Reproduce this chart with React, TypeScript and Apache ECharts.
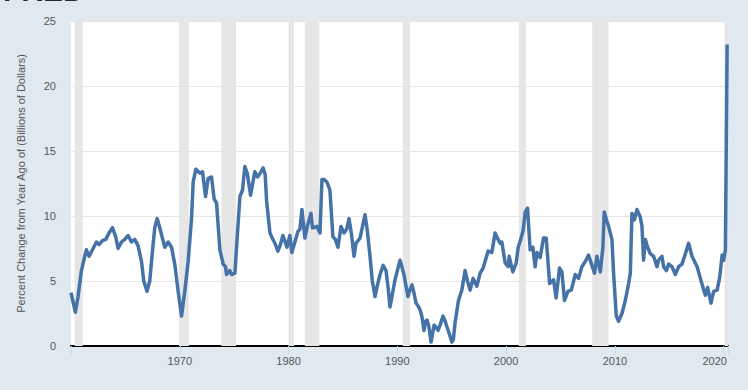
import React, { useEffect, useRef } from "react";
import * as echarts from "echarts";

// Percent change from year ago (decimal year, percent)
const growth1960s: [number, number][] = [
  [1960.0, 4.1], [1960.4, 2.6], [1960.65, 3.8], [1960.96, 5.8], [1961.26, 6.9], [1961.42, 7.4],
  [1961.66, 6.9], [1962.03, 7.5], [1962.34, 8.0], [1962.58, 7.8], [1962.89, 8.1], [1963.2, 8.2],
  [1963.5, 8.7], [1963.81, 9.1], [1964.11, 8.4], [1964.33, 7.5], [1964.64, 8.0], [1964.94, 8.2],
  [1965.25, 8.5], [1965.56, 8.0], [1965.86, 8.2], [1966.17, 7.7], [1966.48, 6.5], [1966.69, 5.0],
  [1966.99, 4.2], [1967.24, 5.0], [1967.49, 7.3], [1967.7, 9.1], [1967.92, 9.8], [1968.16, 9.1],
  [1968.62, 7.6], [1968.93, 8.0], [1969.24, 7.6], [1969.54, 6.3], [1969.85, 4.2],
];
const growth1970s: [number, number][] = [
  [1970.16, 2.3], [1970.46, 4.2], [1970.77, 6.5], [1971.08, 9.8], [1971.23, 12.6], [1971.48, 13.6],
  [1971.84, 13.3], [1972.09, 13.4], [1972.37, 11.5], [1972.61, 12.9], [1972.92, 13.0], [1973.16, 11.3],
  [1973.38, 11.0], [1973.69, 7.4], [1973.99, 6.3], [1974.21, 6.1], [1974.3, 5.5], [1974.6, 5.8],
  [1974.76, 5.5], [1975.07, 5.6], [1975.28, 8.4], [1975.53, 11.5], [1975.77, 12.0], [1975.98, 13.8],
  [1976.2, 13.3], [1976.51, 11.6], [1976.9, 13.4], [1977.15, 13.0], [1977.4, 13.3], [1977.67, 13.7],
  [1977.85, 13.2], [1977.98, 11.2], [1978.15, 9.8], [1978.29, 8.7], [1978.5, 8.3], [1978.75, 7.9],
  [1979.02, 7.3], [1979.25, 7.8], [1979.48, 8.5], [1979.65, 8.1], [1979.85, 7.6],
];
const growth1980s: [number, number][] = [
  [1980.12, 8.5], [1980.3, 7.2], [1980.55, 7.9], [1980.86, 8.8], [1981.05, 9.0], [1981.23, 10.5],
  [1981.5, 8.3], [1981.75, 9.3], [1982.06, 10.2], [1982.2, 9.1], [1982.33, 9.1], [1982.61, 9.2],
  [1982.89, 8.7], [1983.07, 12.8], [1983.3, 12.8], [1983.53, 12.6], [1983.8, 12.0], [1984.08, 8.4],
  [1984.3, 8.2], [1984.54, 7.6], [1984.82, 9.2], [1985.1, 8.7], [1985.35, 9.0], [1985.56, 9.8],
  [1985.8, 8.5], [1986.02, 6.9], [1986.2, 7.9], [1986.57, 8.3], [1986.8, 9.2], [1987.03, 10.1],
  [1987.25, 8.8], [1987.49, 6.9], [1987.7, 5.0], [1987.95, 3.8], [1988.15, 4.6], [1988.41, 5.5],
  [1988.69, 6.2], [1988.96, 5.8], [1989.15, 4.5], [1989.33, 3.0], [1989.55, 4.0], [1989.79, 5.1],
];
const growth1990s: [number, number][] = [
  [1990.0, 5.8], [1990.25, 6.6], [1990.45, 6.0], [1990.61, 5.5], [1990.8, 4.6], [1990.98, 3.8],
  [1991.15, 4.3], [1991.35, 4.7], [1991.55, 4.0], [1991.72, 3.3], [1991.9, 3.1], [1992.08, 2.8],
  [1992.25, 2.3], [1992.45, 1.2], [1992.6, 1.9], [1992.73, 2.0], [1992.9, 1.5], [1993.1, 0.3],
  [1993.38, 1.6], [1993.6, 1.4], [1993.75, 1.2], [1993.93, 1.6], [1994.2, 2.3], [1994.4, 1.9],
  [1994.55, 1.5], [1994.8, 0.9], [1995.01, 0.3], [1995.15, 0.5], [1995.31, 1.8], [1995.62, 3.5],
  [1995.93, 4.3], [1996.23, 5.8], [1996.45, 5.0], [1996.69, 4.3], [1996.97, 5.2], [1997.31, 4.6],
  [1997.61, 5.6], [1997.89, 6.0], [1998.1, 6.6], [1998.35, 7.3], [1998.69, 7.2], [1998.99, 8.7],
  [1999.2, 8.3], [1999.45, 7.9], [1999.61, 8.0], [1999.91, 6.4],
];
const growth2000s: [number, number][] = [
  [2000.19, 6.1], [2000.28, 6.9], [2000.62, 5.7], [2000.93, 6.4], [2001.11, 7.6], [2001.35, 8.2],
  [2001.57, 8.9], [2001.75, 10.3], [2001.97, 10.6], [2002.21, 7.4], [2002.46, 7.6], [2002.67, 6.1],
  [2002.83, 7.2], [2003.13, 6.8], [2003.44, 8.3], [2003.69, 8.3], [2003.85, 6.5], [2004.0, 4.8],
  [2004.36, 5.1], [2004.6, 3.7], [2004.91, 6.0], [2005.13, 5.7], [2005.37, 3.5], [2005.68, 4.2],
  [2005.99, 4.3], [2006.36, 5.5], [2006.66, 5.2], [2006.97, 6.1], [2007.28, 6.5], [2007.58, 7.0],
  [2007.89, 6.2], [2008.13, 5.6], [2008.35, 6.9], [2008.66, 5.7], [2008.9, 7.6], [2009.02, 10.3],
  [2009.27, 9.6], [2009.42, 9.2], [2009.73, 8.2], [2009.88, 5.6],
];
const growth2010s: [number, number][] = [
  [2010.13, 2.3], [2010.34, 1.9], [2010.65, 2.5], [2010.96, 3.5], [2011.26, 4.8], [2011.42, 5.6],
  [2011.57, 10.2], [2011.79, 9.7], [2012.03, 10.5], [2012.34, 9.9], [2012.49, 9.2], [2012.64, 6.6],
  [2012.8, 8.2], [2013.01, 7.6], [2013.26, 7.1], [2013.56, 6.9], [2013.87, 6.1], [2014.02, 6.6],
  [2014.33, 6.9], [2014.48, 6.1], [2014.73, 5.8], [2014.94, 6.3], [2015.25, 6.1], [2015.56, 5.5],
  [2015.86, 6.1], [2016.17, 6.3], [2016.48, 7.1], [2016.78, 7.9], [2017.09, 6.9], [2017.56, 6.1],
  [2017.86, 5.2], [2018.1, 4.5], [2018.32, 3.9], [2018.53, 4.5], [2018.84, 3.3], [2019.08, 4.2],
  [2019.4, 4.3], [2019.64, 5.3], [2019.86, 7.0],
];
const growth2020s: [number, number][] = [
  [2020.0, 6.6], [2020.16, 7.4], [2020.32, 23.2],
];

// NBER recessions (start, end) in decimal years
const recessions: [number, number][] = [
  [1960.33, 1961.08], [1969.92, 1970.83], [1973.83, 1975.17], [1980.0, 1980.5],
  [1981.5, 1982.83], [1990.5, 1991.17], [2001.17, 2001.83], [2007.92, 2009.42],
  [2020.08, 2020.4],
];

const xLabelYears = [1970, 1980, 1990, 2000, 2010, 2020];
const yAxisTitle = "Percent Change from Year Ago of (Billions of Dollars)";

export default function App() {
  const ref = useRef<HTMLDivElement>(null);
  useEffect(() => {
    const chart = echarts.init(ref.current!, null, { renderer: "svg" });
    const font = "'Liberation Sans', Arial, sans-serif";
    const data = [
      ...growth1960s, ...growth1970s, ...growth1980s, ...growth1990s,
      ...growth2000s, ...growth2010s, ...growth2020s,
    ];
    chart.setOption({
      animation: false,
      backgroundColor: "#e1e9f0",
      textStyle: { fontFamily: font },
      graphic: [
        {
          type: "text",
          left: 3,
          top: -25,
          style: { text: "FRED", font: "bold 30px " + font, fill: "#2a2a2a" },
        },
      ],
      grid: {
        left: 71, right: 20, top: 21, bottom: 44,
        show: true, backgroundColor: "#ffffff", borderWidth: 0,
      },
      xAxis: {
        type: "value",
        min: 1960,
        max: 2020.4,
        interval: 10,
        axisLine: { show: true, lineStyle: { color: "#000000", width: 2 } },
        axisTick: { show: true, length: 8, lineStyle: { color: "#ccd6eb" } },
        splitLine: { show: false },
        axisLabel: {
          color: "#555555",
          fontSize: 11,
          fontFamily: font,
          margin: 9,
          formatter: (v: number) => {
            if (!xLabelYears.includes(v)) return "";
            return v === 2020 ? "{r|" + v + "}" : String(v);
          },
          rich: { r: { color: "#555555", fontSize: 11, fontFamily: font, padding: [0, 18, 0, 0] } },
        },
      },
      yAxis: {
        type: "value",
        min: 0,
        max: 25,
        interval: 5,
        axisLine: { show: false },
        axisTick: { show: false },
        splitLine: { lineStyle: { color: "#e6e6e6", width: 1 } },
        axisLabel: { color: "#555555", fontSize: 11, fontFamily: font, margin: 15 },
        name: yAxisTitle,
        nameLocation: "middle",
        nameGap: 45,
        nameTextStyle: { color: "#555555", fontSize: 11, fontFamily: font },
      },
      series: [
        {
          type: "line",
          data: [],
          silent: true,
          z: 1,
          markArea: {
            silent: true,
            itemStyle: { color: "#e6e6e6" },
            data: recessions.map(([a, b]) => [{ xAxis: a }, { xAxis: b }]),
          },
        },
        {
          type: "line",
          data,
          z: 3,
          showSymbol: false,
          symbol: "none",
          lineStyle: { color: "#4572a7", width: 3.5, join: "round" },
        },
      ],
    });
    return () => chart.dispose();
  }, []);
  return (
    <div
      ref={ref}
      style={{ position: "absolute", left: 0, top: 0, width: 748, height: 390 }}
    />
  );
}
